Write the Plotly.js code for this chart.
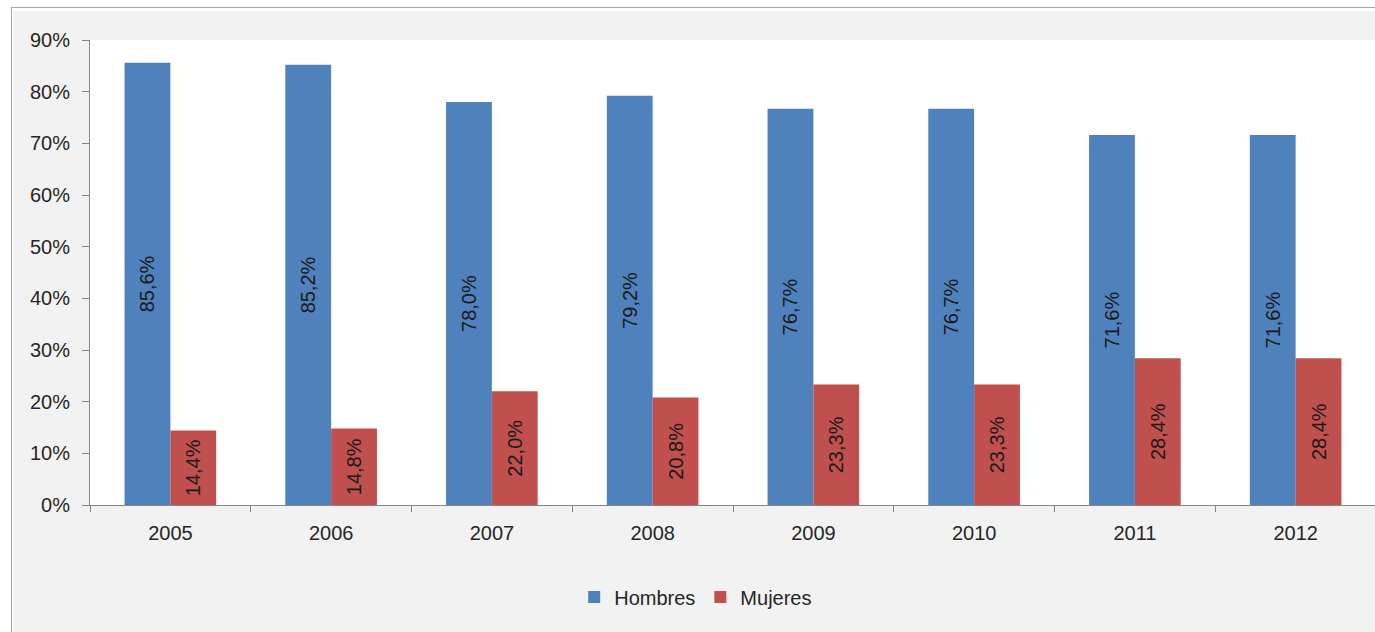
<!DOCTYPE html>
<html>
<head>
<meta charset="utf-8">
<script src="https://cdn.plot.ly/plotly-3.0.1.min.js"></script>
<style>
  html, body { margin: 0; padding: 0; background: #fff; overflow: hidden; }
  #frame {
    position: absolute; left: 11px; top: 7px; width: 1370px; height: 630px;
    border-top: 1px solid #a6a6a6; border-left: 1px solid #a6a6a6;
    background: #fff;
  }
  #chart { position: absolute; left: 1px; top: 3px; width: 1363px; height: 621px; }
</style>
</head>
<body>
<div id="frame"><div id="chart"></div></div>
<script>
const years = ['2005', '2006', '2007', '2008', '2009', '2010', '2011', '2012'];
const hombres = [85.6, 85.2, 78.0, 79.2, 76.7, 76.7, 71.6, 71.6];
const mujeres = [14.4, 14.8, 22.0, 20.8, 23.3, 23.3, 28.4, 28.4];

const font = 'Liberation Sans, Arial, sans-serif';

function barTrace(name, values, color) {
  return {
    type: 'bar',
    name: name,
    x: years,
    y: values,
    marker: { color: color },
    text: values.map(v => v.toFixed(1).replace('.', ',') + '%'),
    textposition: 'inside',
    insidetextanchor: 'middle',
    textangle: -90,
    constraintext: 'none',
    textfont: { family: font, size: 20, color: '#1a1a1a' },
    hoverinfo: 'x+y+name'
  };
}

const data = [
  barTrace('Hombres', hombres, '#4f81bd'),
  barTrace('Mujeres', mujeres, '#c0504d')
];

const layout = {
  width: 1363,
  height: 621,
  margin: { l: 77, r: 0, t: 29, b: 127 },
  paper_bgcolor: '#f2f2f2',
  plot_bgcolor: '#ffffff',
  font: { family: font, size: 20, color: '#262626' },
  barmode: 'group',
  bargap: 0.43,
  bargroupgap: 0,
  xaxis: {
    type: 'category',
    showline: true,
    linecolor: '#868686',
    linewidth: 1,
    ticks: 'outside',
    tickson: 'boundaries',
    ticklen: 6,
    tickcolor: '#868686',
    showgrid: false,
    ticklabelstandoff: 10,
    tickfont: { size: 20, color: '#262626' }
  },
  yaxis: {
    range: [0, 90],
    dtick: 10,
    ticksuffix: '%',
    showline: true,
    linecolor: '#868686',
    linewidth: 1,
    ticks: 'outside',
    ticklen: 7,
    tickcolor: '#868686',
    showgrid: false,
    zeroline: false,
    ticklabelstandoff: 8,
    tickfont: { size: 20, color: '#262626' }
  },
  showlegend: true,
  legend: {
    orientation: 'h',
    x: 0.471,
    xanchor: 'center',
    y: -0.198,
    yanchor: 'middle',
    font: { size: 20, color: '#262626' },
    bgcolor: 'rgba(0,0,0,0)'
  }
};

Plotly.newPlot('chart', data, layout, { displayModeBar: false });
</script>
</body>
</html>
